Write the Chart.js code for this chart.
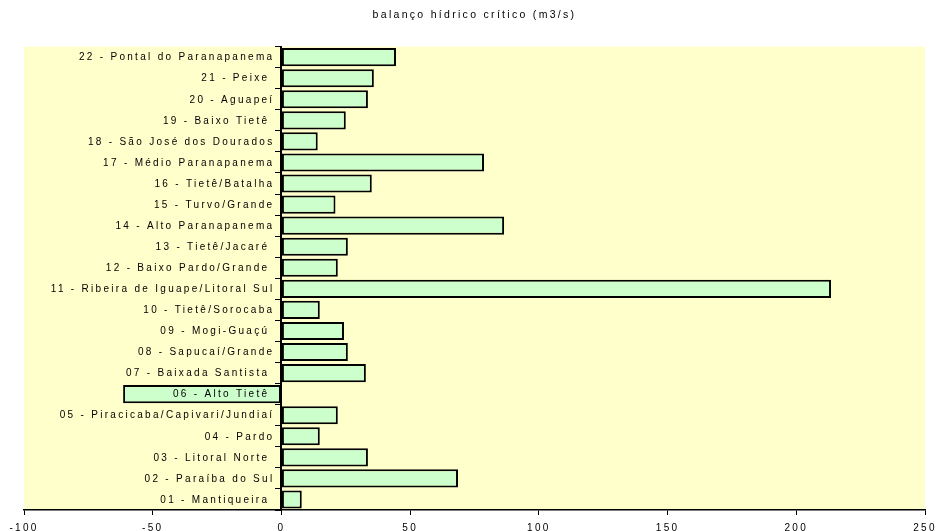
<!DOCTYPE html>
<html>
<head>
<meta charset="utf-8">
<script src="https://cdn.jsdelivr.net/npm/chart.js@4/dist/chart.umd.min.js"></script>
<style>
  html, body { margin: 0; padding: 0; background: #ffffff; }
  #wrap { width: 936px; height: 531px; }
</style>
</head>
<body>
<div id="wrap"><canvas id="c" width="936" height="531"></canvas></div>
<script>
// Unidades de gerenciamento (UGRHI), de baixo para cima
const categories = [
  '01 - Mantiqueira ',
  '02 - Paraíba do Sul',
  '03 - Litoral Norte ',
  '04 - Pardo',
  '05 - Piracicaba/Capivari/Jundiaí',
  '06 - Alto Tietê ',
  '07 - Baixada Santista ',
  '08 - Sapucaí/Grande',
  '09 - Mogi-Guaçú ',
  '10 - Tietê/Sorocaba',
  '11 - Ribeira de Iguape/Litoral Sul',
  '12 - Baixo Pardo/Grande ',
  '13 - Tietê/Jacaré ',
  '14 - Alto Paranapanema',
  '15 - Turvo/Grande',
  '16 - Tietê/Batalha',
  '17 - Médio Paranapanema',
  '18 - São José dos Dourados',
  '19 - Baixo Tietê ',
  '20 - Aguapeí',
  '21 - Peixe ',
  '22 - Pontal do Paranapanema'
];

// Balanço hídrico crítico (m3/s)
const balanco = [
  7.9, 68.6, 33.6, 14.9, 21.9, -61.5, 32.8, 25.8, 24.3, 14.9, 213.5,
  21.9, 25.8, 86.5, 21.0, 35.1, 78.7, 14.1, 25.0, 33.6, 35.9, 44.5
];

const xTicks = [-100, -50, 0, 50, 100, 150, 200, 250];

const chartTitle = 'balanço hídrico crítico (m3/s)';

const FAMILY = '"Liberation Sans", Arial, sans-serif';
const FONT = { family: FAMILY, size: 10 };
const SPACING = '2.3px';

// Espaçamento entre letras e fundo amarelo da área de plotagem
const plotStyle = {
  id: 'plotStyle',
  beforeUpdate(chart) { chart.ctx.letterSpacing = SPACING; },
  beforeLayout(chart) { chart.ctx.letterSpacing = SPACING; },
  beforeDraw(chart) {
    const { ctx, chartArea: a } = chart;
    ctx.letterSpacing = SPACING;
    ctx.save();
    ctx.fillStyle = '#FFFFCC';
    ctx.fillRect(a.left, a.top, a.right - a.left, a.bottom - a.top);
    ctx.restore();
  }
};

// Rótulos das categorias junto ao eixo do zero, por cima das barras
const categoryLabels = {
  id: 'categoryLabels',
  afterDatasetsDraw(chart) {
    const { ctx, scales: { x, y } } = chart;
    const right = x.getPixelForValue(0) - 7;
    ctx.save();
    ctx.letterSpacing = SPACING;
    ctx.font = '10px ' + FAMILY;
    ctx.fillStyle = '#000000';
    ctx.textAlign = 'right';
    ctx.textBaseline = 'middle';
    categories.forEach((label, i) => {
      ctx.fillText(label, right, y.getPixelForValue(i) + 0.5);
    });
    ctx.restore();
  }
};

new Chart(document.getElementById('c'), {
  type: 'bar',
  data: {
    labels: categories,
    datasets: [{
      data: balanco,
      backgroundColor: '#CCFFCC',
      borderColor: '#000000',
      borderWidth: 2,
      borderSkipped: false,
      barPercentage: 0.86,
      categoryPercentage: 1.0
    }]
  },
  options: {
    indexAxis: 'y',
    responsive: false,
    animation: false,
    devicePixelRatio: 1,
    layout: { padding: { left: 24, right: 11, top: 0, bottom: -10 } },
    plugins: {
      legend: { display: false },
      tooltip: { enabled: false },
      title: {
        display: true,
        text: chartTitle,
        fullSize: false,
        color: '#000000',
        font: { family: FAMILY, size: 10.5, weight: 'normal' },
        padding: { top: 9, bottom: 25 }
      }
    },
    scales: {
      x: {
        type: 'linear',
        min: -100,
        max: 250,
        afterBuildTicks: s => { s.ticks = xTicks.map(v => ({ value: v })); },
        afterFit: s => { s.paddingLeft = 0; s.paddingRight = 0; },
        ticks: { color: '#000000', font: FONT, padding: 7, maxRotation: 0, autoSkip: false },
        grid: { drawOnChartArea: false, drawTicks: true, tickLength: 5, color: '#000000', lineWidth: 1 },
        border: { color: '#000000', width: 1.5 }
      },
      y: {
        type: 'category',
        reverse: true,
        position: { x: 0 },
        afterFit: s => { s.paddingTop = 0; s.paddingBottom = 0; },
        ticks: { display: false },
        grid: { drawOnChartArea: false, drawTicks: true, tickLength: 5, color: '#000000', offset: true, lineWidth: 1 },
        border: { color: '#000000', width: 2 }
      }
    }
  },
  plugins: [plotStyle, categoryLabels]
});
</script>
</body>
</html>
